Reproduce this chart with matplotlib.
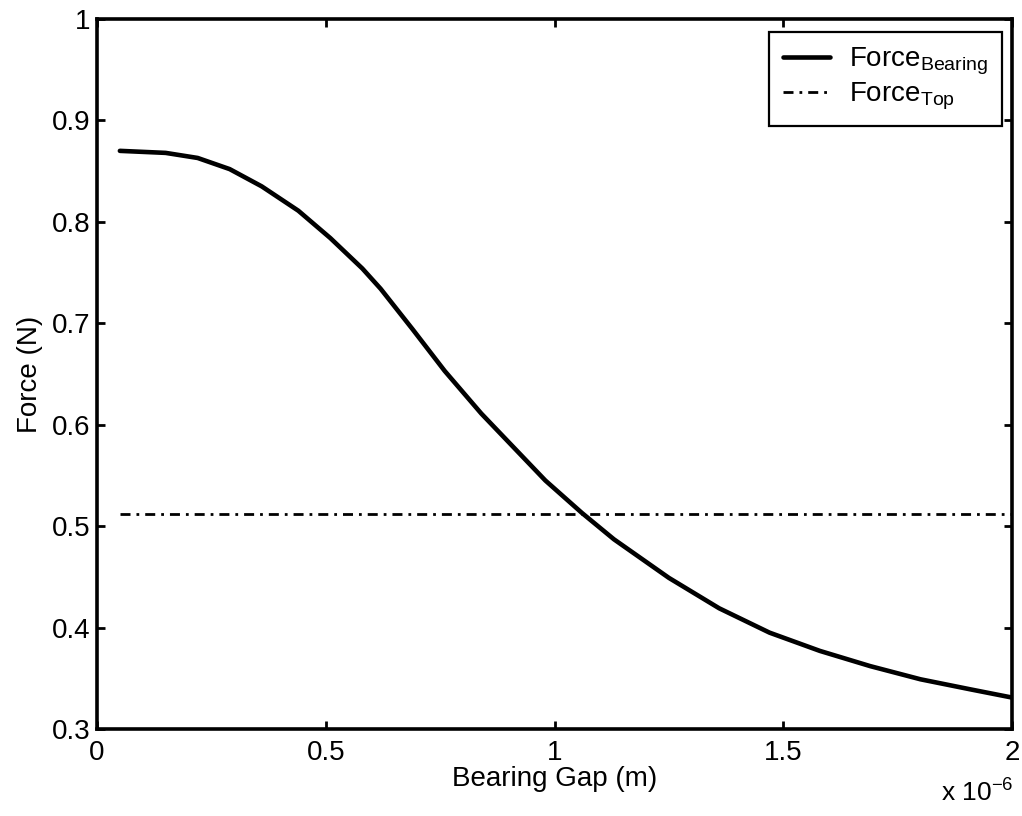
import matplotlib
matplotlib.use("Agg")
import matplotlib.pyplot as plt

# Data (bearing gap in units of 1e-6 m)
gap = [0.05, 0.15, 0.22, 0.29, 0.36, 0.44, 0.51, 0.58, 0.62, 0.69, 0.76,
       0.84, 0.91, 0.98, 1.06, 1.13, 1.25, 1.36, 1.47, 1.58, 1.69, 1.80,
       1.91, 2.00]
force_bearing = [0.870, 0.868, 0.863, 0.852, 0.835, 0.811, 0.784, 0.754, 0.734,
                 0.694, 0.653, 0.611, 0.578, 0.545, 0.513, 0.487, 0.449, 0.419,
                 0.395, 0.377, 0.362, 0.349, 0.339, 0.331]
force_top_gap = [0.05, 2.0]
force_top = [0.512, 0.512]

xticks = [0, 0.5, 1, 1.5, 2]
xticklabels = ["0", "0.5", "1", "1.5", "2"]
yticks = [0.3, 0.4, 0.5, 0.6, 0.7, 0.8, 0.9, 1.0]
yticklabels = ["0.3", "0.4", "0.5", "0.6", "0.7", "0.8", "0.9", "1"]

plt.rcParams['font.family'] = ['Liberation Sans', 'DejaVu Sans']
plt.rcParams['mathtext.fontset'] = 'custom'
plt.rcParams['mathtext.rm'] = 'Liberation Sans'
plt.rcParams['mathtext.it'] = 'Liberation Sans'
plt.rcParams['mathtext.sf'] = 'Liberation Sans'
plt.rcParams['lines.scale_dashes'] = False

fig = plt.figure(figsize=(10.22, 8.16), dpi=100)
ax = fig.add_axes([97/1022, 1 - 729/816, (1012-97)/1022, (729-19)/816])

ax.plot(gap, force_bearing, color='black', lw=3.3, solid_capstyle='round',
        solid_joinstyle='round', label=r'Force$_{\mathrm{Bearing}}$')
ax.plot(force_top_gap, force_top, color='black', lw=2.0,
        dashes=(7.2, 4.3, 2.0, 4.3), label=r'Force$_{\mathrm{Top}}$')

ax.set_xlim(0, 2)
ax.set_ylim(0.3, 1.0)
ax.set_xticks(xticks)
ax.set_xticklabels(xticklabels)
ax.set_yticks(yticks)
ax.set_yticklabels(yticklabels)
ax.tick_params(direction='in', length=6, width=2, labelsize=20,
               top=True, right=True, colors='black')
ax.tick_params(axis='y', pad=5)
ax.tick_params(axis='x', pad=8)
for s in ax.spines.values():
    s.set_linewidth(2.6)

ax.set_xlabel('Bearing Gap (m)', fontsize=20, labelpad=0)
ax.set_ylabel('Force (N)', fontsize=20, labelpad=6)

fig.text(1013/1022, 1 - 793/816, r'x 10$^{-6}$', fontsize=19,
         ha='right', va='center')

leg = ax.legend(loc='upper right', fontsize=20, frameon=True, fancybox=False,
                edgecolor='black', framealpha=1, handlelength=1.7,
                borderpad=0.5, labelspacing=0.12, handletextpad=0.68,
                borderaxespad=0,
                bbox_to_anchor=(1002/1022, 1 - 32/816),
                bbox_transform=fig.transFigure)
leg.get_frame().set_linewidth(1.6)

fig.savefig('out.png', dpi=100)
